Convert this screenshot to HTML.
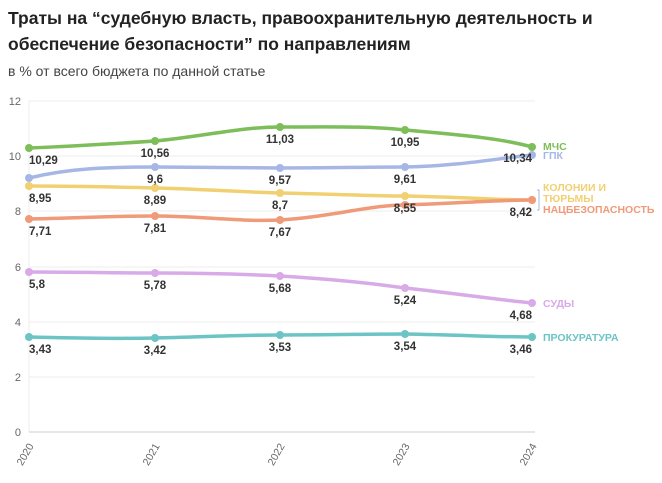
<!DOCTYPE html>
<html><head><meta charset="utf-8"><style>
body{margin:0;background:#fff;width:662px;height:478px;overflow:hidden;font-family:"Liberation Sans","DejaVu Sans",sans-serif}
</style></head><body>
<svg width="662" height="478" xmlns="http://www.w3.org/2000/svg" font-family="Liberation Sans, DejaVu Sans, sans-serif">
<text x="8" y="24" font-size="17.5" font-weight="bold" fill="#222">Траты на “судебную власть, правоохранительную деятельность и</text>
<text x="8" y="50" font-size="17.5" font-weight="bold" fill="#222">обеспечение безопасности” по направлениям</text>
<text x="8" y="76" font-size="14" fill="#444">в % от всего бюджета по данной статье</text>
<g stroke="#ececec" stroke-width="1">
<line x1="29" x2="535" y1="101" y2="101"/><line x1="29" x2="535" y1="156" y2="156"/><line x1="29" x2="535" y1="211" y2="211"/><line x1="29" x2="535" y1="267" y2="267"/><line x1="29" x2="535" y1="322" y2="322"/><line x1="29" x2="535" y1="377" y2="377"/>
<line x1="29" x2="29" y1="101" y2="432"/>
</g>
<line x1="29" x2="535" y1="432" y2="432" stroke="#ccc"/>
<g font-size="11" fill="#666" text-anchor="end">
<text x="21" y="105">12</text><text x="21" y="160">10</text><text x="21" y="215">8</text><text x="21" y="271">6</text><text x="21" y="326">4</text><text x="21" y="381">2</text><text x="21" y="436">0</text>
</g>
<g font-size="10.5" fill="#666" text-anchor="end">
<text transform="translate(34,446) rotate(-60)">2020</text>
<text transform="translate(160,446) rotate(-60)">2021</text>
<text transform="translate(285,446) rotate(-60)">2022</text>
<text transform="translate(410,446) rotate(-60)">2023</text>
<text transform="translate(537,446) rotate(-60)">2024</text>
</g>
<g fill="none" stroke-width="3.5" stroke-linejoin="round" stroke-linecap="round">
<path stroke="#7dbd5a" d="M29,148 C80,146 110,144 155,141 C200,137 240,127 280,127 C330,127 370,126 405,130 C460,135 500,138 532,147"/>
<path stroke="#a6b7e6" d="M29,178 C70,168 110,167 155,167 C200,167 240,168 280,168 C330,168 370,167 405,167 C460,166 500,158 532,155"/>
<path stroke="#f1d072" d="M29,186 C80,186 110,187 155,188 C200,189 240,192 280,193 C330,194 370,196 405,196 C460,197 500,200 532,200"/>
<path stroke="#ef9a78" d="M29,219 C80,218 110,216 155,216 C200,216 240,222 280,220 C330,217 370,205 405,205 C460,203 500,200 532,200"/>
<path stroke="#d8aae8" d="M29,272 C80,272 110,273 155,273 C200,273 240,274 280,276 C330,279 370,283 405,288 C460,294 500,300 532,303"/>
<path stroke="#6cc4c4" d="M29,337 C80,338 110,339 155,338 C200,337 240,335 280,335 C330,335 370,334 405,334 C460,335 500,337 532,337"/>
</g>
<g>
<g fill="#7dbd5a"><circle cx="29" cy="148" r="4"/><circle cx="155" cy="141" r="4"/><circle cx="280" cy="127" r="4"/><circle cx="405" cy="130" r="4"/><circle cx="532" cy="147" r="4"/></g>
<g fill="#a6b7e6"><circle cx="29" cy="178" r="4"/><circle cx="155" cy="167" r="4"/><circle cx="280" cy="168" r="4"/><circle cx="405" cy="167" r="4"/><circle cx="532" cy="155" r="4"/></g>
<g fill="#f1d072"><circle cx="29" cy="186" r="4"/><circle cx="155" cy="188" r="4"/><circle cx="280" cy="193" r="4"/><circle cx="405" cy="196" r="4"/><circle cx="532" cy="200" r="4"/></g>
<g fill="#ef9a78"><circle cx="29" cy="219" r="4"/><circle cx="155" cy="216" r="4"/><circle cx="280" cy="220" r="4"/><circle cx="405" cy="205" r="4"/><circle cx="532" cy="200" r="4"/></g>
<g fill="#d8aae8"><circle cx="29" cy="272" r="4"/><circle cx="155" cy="273" r="4"/><circle cx="280" cy="276" r="4"/><circle cx="405" cy="288" r="4"/><circle cx="532" cy="303" r="4"/></g>
<g fill="#6cc4c4"><circle cx="29" cy="337" r="4"/><circle cx="155" cy="338" r="4"/><circle cx="280" cy="335" r="4"/><circle cx="405" cy="334" r="4"/><circle cx="532" cy="337" r="4"/></g>
</g>
<g font-size="11.5" font-weight="bold" fill="#333">
<text x="29" y="164">10,29</text><text x="155" y="157" text-anchor="middle">10,56</text><text x="280" y="143" text-anchor="middle">11,03</text><text x="405" y="146" text-anchor="middle">10,95</text><text x="532" y="162" text-anchor="end">10,34</text>
<text x="155" y="183" text-anchor="middle">9,6</text><text x="280" y="184" text-anchor="middle">9,57</text><text x="405" y="183" text-anchor="middle">9,61</text>
<text x="29" y="202">8,95</text><text x="155" y="204" text-anchor="middle">8,89</text><text x="280" y="209" text-anchor="middle">8,7</text><text x="405" y="212" text-anchor="middle">8,55</text>
<text x="29" y="235">7,71</text><text x="155" y="232" text-anchor="middle">7,81</text><text x="280" y="236" text-anchor="middle">7,67</text><text x="532" y="216" text-anchor="end">8,42</text>
<text x="29" y="288">5,8</text><text x="155" y="289" text-anchor="middle">5,78</text><text x="280" y="292" text-anchor="middle">5,68</text><text x="405" y="304" text-anchor="middle">5,24</text><text x="532" y="319" text-anchor="end">4,68</text>
<text x="29" y="353">3,43</text><text x="155" y="354" text-anchor="middle">3,42</text><text x="280" y="351" text-anchor="middle">3,53</text><text x="405" y="350" text-anchor="middle">3,54</text><text x="532" y="353" text-anchor="end">3,46</text>
</g>
<g font-size="10.5" font-weight="bold">
<text x="543" y="150" fill="#7dbd5a">МЧС</text>
<text x="543" y="159" fill="#a6b7e6">ГПК</text>
<text x="543" y="191" fill="#f1d072">КОЛОНИИ И</text>
<text x="543" y="202" fill="#f1d072">ТЮРЬМЫ</text>
<text x="543" y="213" fill="#ef9a78">НАЦБЕЗОПАСНОСТЬ</text>
<text x="543" y="307" fill="#d8aae8">СУДЫ</text>
<text x="543" y="341" fill="#6cc4c4">ПРОКУРАТУРА</text>
</g>
<path d="M537,190 h2 v20 h-2" stroke="#a6b7e6" fill="none"/>
</svg>
</body></html>
